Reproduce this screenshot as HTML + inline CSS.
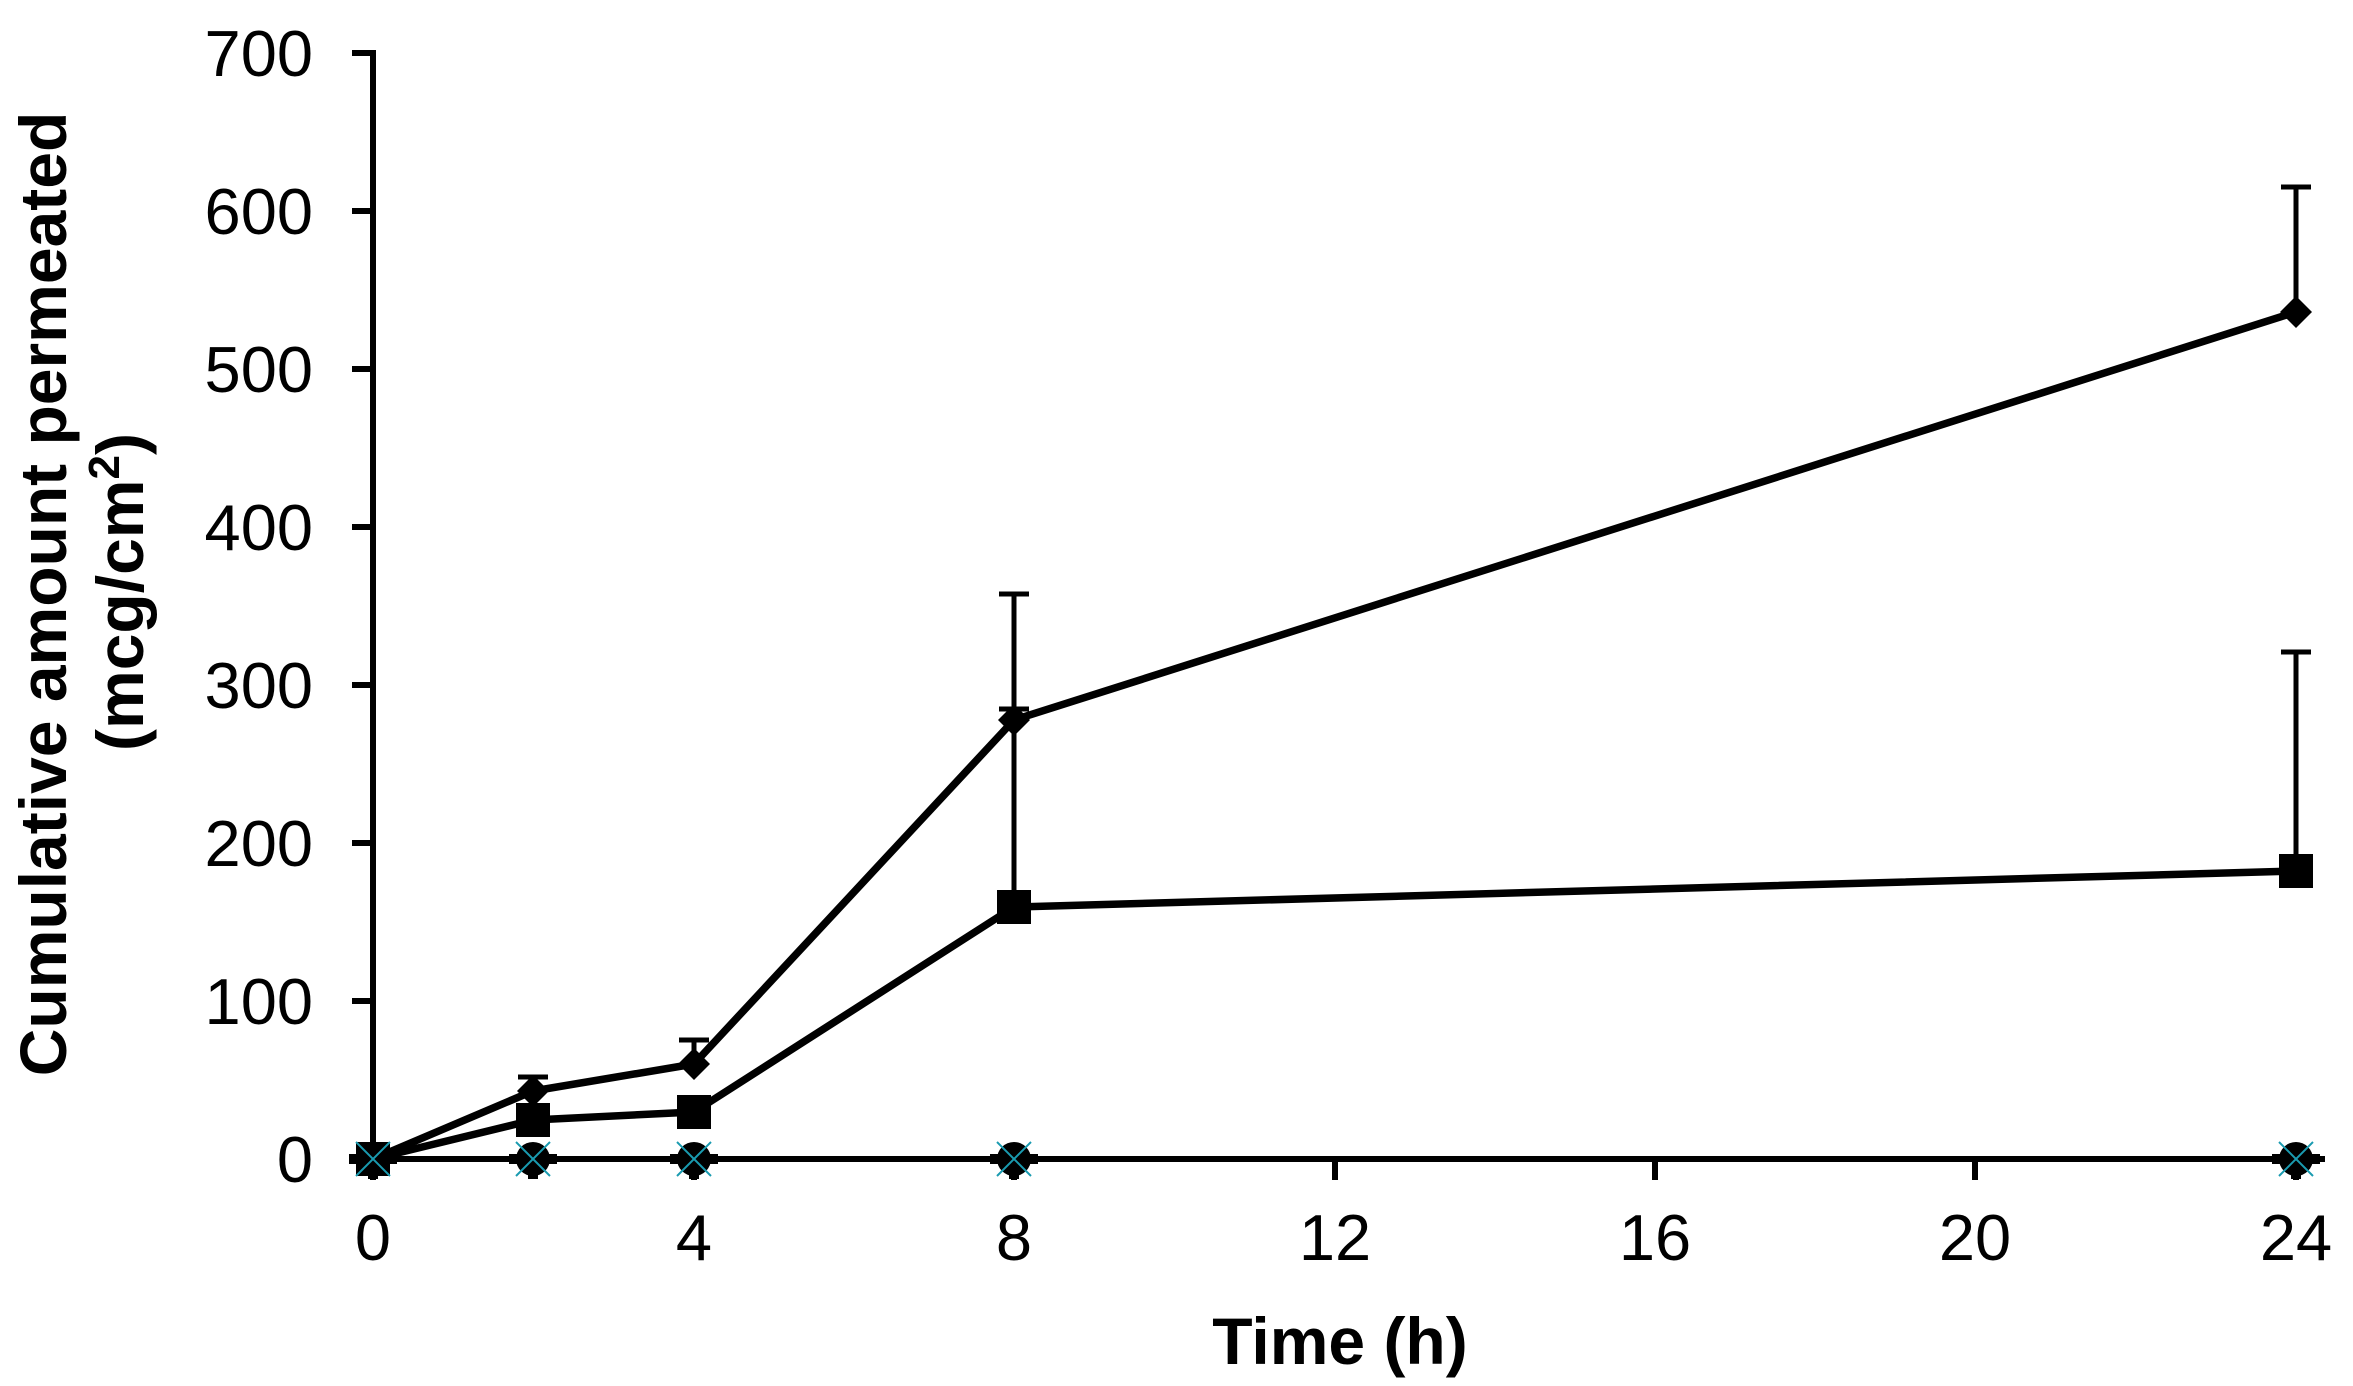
<!DOCTYPE html>
<html><head><meta charset="utf-8"><style>html,body{margin:0;padding:0;background:#fff}svg{display:block}</style></head>
<body>
<svg width="2353" height="1386" viewBox="0 0 2353 1386" xmlns="http://www.w3.org/2000/svg" font-family="Liberation Sans, Arial, sans-serif">
<rect width="2353" height="1386" fill="#fff"/>
<g stroke="#000" stroke-width="6" fill="none">
<line x1="373" y1="53" x2="373" y2="1162"/>
<line x1="370" y1="1159" x2="2325" y2="1159"/>
<line x1="352" y1="53" x2="376" y2="53"/>
<line x1="352" y1="211" x2="373" y2="211"/>
<line x1="352" y1="369" x2="373" y2="369"/>
<line x1="352" y1="527" x2="373" y2="527"/>
<line x1="352" y1="685" x2="373" y2="685"/>
<line x1="352" y1="843" x2="373" y2="843"/>
<line x1="352" y1="1001" x2="373" y2="1001"/>
<line x1="352" y1="1159" x2="373" y2="1159"/>
<line x1="373" y1="1159" x2="373" y2="1180"/>
<line x1="694" y1="1159" x2="694" y2="1180"/>
<line x1="1014" y1="1159" x2="1014" y2="1180"/>
<line x1="1335" y1="1159" x2="1335" y2="1180"/>
<line x1="1655" y1="1159" x2="1655" y2="1180"/>
<line x1="1975" y1="1159" x2="1975" y2="1180"/>
<line x1="2296" y1="1159" x2="2296" y2="1180"/>
</g>
<g font-size="65" text-anchor="end" fill="#000">
<text x="313" y="76">700</text>
<text x="313" y="234">600</text>
<text x="313" y="392">500</text>
<text x="313" y="550">400</text>
<text x="313" y="708">300</text>
<text x="313" y="866">200</text>
<text x="313" y="1024">100</text>
<text x="313" y="1182">0</text>
</g>
<g font-size="65" text-anchor="middle" fill="#000">
<text x="373" y="1260">0</text>
<text x="694" y="1260">4</text>
<text x="1014" y="1260">8</text>
<text x="1335" y="1260">12</text>
<text x="1655" y="1260">16</text>
<text x="1975" y="1260">20</text>
<text x="2296" y="1260">24</text>
</g>
<text x="1340" y="1364" font-size="66" font-weight="bold" text-anchor="middle">Time (h)</text>
<g font-size="66" font-weight="bold" text-anchor="middle">
<text transform="translate(66,594) rotate(-90)">Cumulative amount permeated</text>
<text transform="translate(143,592) rotate(-90)">(mcg/cm<tspan font-size="44" dy="-24">2</tspan><tspan dy="24">)</tspan></text>
</g>
<g stroke="#000" stroke-width="5">
<line x1="533" y1="1091" x2="533" y2="1077"/><line x1="518" y1="1077" x2="548" y2="1077"/>
<line x1="694" y1="1064" x2="694" y2="1040"/><line x1="679" y1="1040" x2="709" y2="1040"/>
<line x1="1014" y1="720" x2="1014" y2="594"/><line x1="999" y1="594" x2="1029" y2="594"/>
<line x1="1014" y1="907" x2="1014" y2="709"/><line x1="999" y1="709" x2="1029" y2="709"/>
<line x1="2296" y1="312" x2="2296" y2="187"/><line x1="2281" y1="187" x2="2311" y2="187"/>
<line x1="2296" y1="870" x2="2296" y2="652"/><line x1="2281" y1="652" x2="2311" y2="652"/>
</g>
<g stroke="#000" stroke-width="7.5" fill="none" stroke-linejoin="round">
<polyline points="373,1159 533,1091 694,1064 1014,720 2296,312"/>
<polyline points="373,1159 533,1120 694,1112 1014,907 2296,871"/>
</g>
<g fill="#000">
<polygon points="533,1075 549,1091 533,1107 517,1091"/>
<polygon points="694,1048 710,1064 694,1080 678,1064"/>
<polygon points="1014,704 1030,720 1014,736 998,720"/>
<polygon points="2296,296 2312,312 2296,328 2280,312"/>
<rect x="516" y="1103" width="34" height="34"/>
<rect x="677" y="1095" width="34" height="34"/>
<rect x="997" y="890" width="34" height="34"/>
<rect x="2279" y="854" width="34" height="34"/>
</g>
<g fill="#000">
<rect x="356" y="1142" width="34" height="34"/>
<rect x="349" y="1154" width="48" height="10"/><rect x="368" y="1154" width="10" height="25"/>
<circle cx="533" cy="1159" r="17"/><rect x="509" y="1154" width="48" height="10"/><rect x="528" y="1159" width="10" height="20"/>
<circle cx="694" cy="1159" r="17"/><rect x="670" y="1154" width="48" height="10"/><rect x="689" y="1159" width="10" height="20"/>
<circle cx="1014" cy="1159" r="17"/><rect x="990" y="1154" width="48" height="10"/><rect x="1009" y="1159" width="10" height="20"/>
<circle cx="2296" cy="1159" r="17"/><rect x="2272" y="1154" width="48" height="10"/><rect x="2291" y="1159" width="10" height="20"/>
</g>
<g stroke="#1a9bb0" stroke-width="2">
<path d="M356,1142 L390,1176 M390,1142 L356,1176"/>
<path d="M516,1142 L550,1176 M550,1142 L516,1176"/>
<path d="M677,1142 L711,1176 M711,1142 L677,1176"/>
<path d="M997,1142 L1031,1176 M1031,1142 L997,1176"/>
<path d="M2279,1142 L2313,1176 M2313,1142 L2279,1176"/>
</g>
</svg>
</body></html>
